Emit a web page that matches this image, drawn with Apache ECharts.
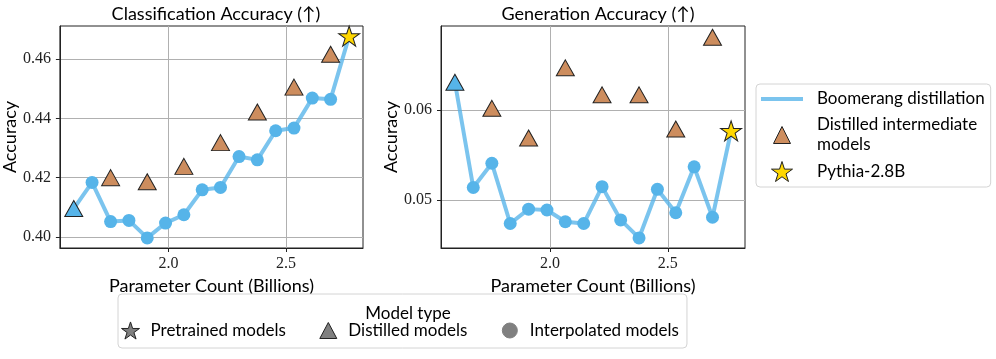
<!DOCTYPE html>
<html>
<head>
<meta charset="utf-8">
<script src="https://cdn.jsdelivr.net/npm/echarts@6/dist/echarts.min.js"></script>
<style>
  html, body { margin: 0; padding: 0; background: #fff; }
  #chart { width: 996px; height: 359px; }
</style>
</head>
<body>
<div id="chart"></div>
<script>
// parameter counts (billions) of the boomerang path, small -> Pythia-2.8B
const params = [1.596, 1.674, 1.753, 1.831, 1.909, 1.987, 2.065, 2.143,
  2.221, 2.300, 2.378, 2.456, 2.534, 2.612, 2.690, 2.769];
// indices of params that are distilled intermediate models
const distilledIdx = [2, 4, 6, 8, 10, 12, 14];

const clsBoomerang = [0.4096, 0.4184, 0.4052, 0.4056, 0.3997, 0.4047, 0.4075, 0.4159,
  0.4167, 0.4271, 0.4260, 0.4358, 0.4367, 0.4468, 0.4464, 0.4677];
const clsDistilled = [0.4200, 0.4186, 0.4238, 0.4318, 0.4421, 0.4505, 0.4616];

const genBoomerang = [0.0631, 0.0514, 0.0541, 0.0474, 0.0490, 0.0489, 0.0476, 0.0474,
  0.0515, 0.0478, 0.0458, 0.0512, 0.0486, 0.0537, 0.0481, 0.0577];
const genDistilled = [0.0602, 0.0569, 0.0647, 0.0617, 0.0617, 0.0579, 0.0681];

const xTicks = [2.0, 2.5];
const clsTicks = [0.40, 0.42, 0.44, 0.46];
const genTicks = [0.05, 0.06];

const BLUE = "#56B4E9";
const BROWN = "#CD8D5E";
const GOLD = "#FFD700";
const EDGE = "#222";
const SANS = "Lato";
const SERIF = "Liberation Serif";
const STAR = "path://M50 0 L61.23 34.55 L97.55 34.55 L68.16 55.9 L79.39 90.45 L50 69.1 L20.61 90.45 L31.84 55.9 L2.45 34.55 L38.77 34.55 Z";
// legend icons (the lone M points pad the bounding box so the shape keeps its size)
const ICON_LINE = "path://M0 8 L42 8 L42 12 L0 12 Z M0 0 M42 20";
const ICON_TRI20 = "path://M10 1.5 L18.5 18.5 L1.5 18.5 Z M0 0 M20 20";
const ICON_TRI18 = "path://M9 1 L17.5 17 L0.5 17 Z M0 0 M18 18";
const ICON_DOT18 = "path://M9 1.5 A7.5 7.5 0 1 1 8.99 1.5 Z M0 0 M18 18";

const grids = [
  { left: 59, top: 26, width: 304, height: 222 },
  { left: 441, top: 26, width: 304, height: 222 }
];

function xAxisFor(i) {
  return {
    type: "value", gridIndex: i, min: 1.537, max: 2.828,
    name: "Parameter Count (Billions)", nameLocation: "middle", nameGap: 26,
    nameTextStyle: { fontFamily: SANS, fontSize: 18, color: "#000" },
    axisLine: { show: true, lineStyle: { color: EDGE, width: 1 } },
    axisTick: { show: true, length: 4, customValues: xTicks, lineStyle: { color: EDGE } },
    axisLabel: { customValues: xTicks, margin: 8, fontFamily: SERIF, fontSize: 16, color: "#222",
      formatter: v => v.toFixed(1) },
    splitLine: { show: true, lineStyle: { color: "#b0b0b0", width: 1 } }
  };
}

function yAxisFor(i, min, max, ticks) {
  return {
    type: "value", gridIndex: i, min: min, max: max,
    name: "Accuracy", nameLocation: "middle", nameGap: 37,
    nameTextStyle: { fontFamily: SANS, fontSize: 18, color: "#000" },
    axisLine: { show: true, lineStyle: { color: EDGE, width: 1 } },
    axisTick: { show: true, length: 4, customValues: ticks, lineStyle: { color: EDGE } },
    axisLabel: { customValues: ticks, margin: 9, fontFamily: SERIF, fontSize: 16, color: "#222",
      formatter: v => v.toFixed(2) },
    splitLine: { show: true, lineStyle: { color: "#b0b0b0", width: 1 } }
  };
}

function panelSeries(i, boomerang, distilled) {
  const pts = params.map((x, k) => [x, boomerang[k]]);
  return [
    {
      name: "Boomerang distillation", type: "line", xAxisIndex: i, yAxisIndex: i,
      data: pts, symbol: "none", z: 2,
      lineStyle: { color: "rgba(86,180,233,0.78)", width: 4 },
      itemStyle: { color: "rgba(86,180,233,0.78)" }
    },
    {
      name: "interp", type: "scatter", xAxisIndex: i, yAxisIndex: i,
      data: pts.slice(1, pts.length - 1), symbol: "circle", symbolSize: 13, z: 3,
      itemStyle: { color: BLUE, opacity: 1 }
    },
    {
      name: "start", type: "scatter", xAxisIndex: i, yAxisIndex: i,
      data: [pts[0]], symbol: "triangle", symbolSize: [18, 16], z: 4,
      itemStyle: { color: BLUE, borderColor: EDGE, borderWidth: 1, opacity: 1 }
    },
    {
      name: "Distilled intermediate\nmodels", type: "scatter", xAxisIndex: i, yAxisIndex: i,
      data: distilledIdx.map((k, j) => [params[k], distilled[j]]),
      symbol: "triangle", symbolSize: [18, 16], z: 4, clip: false,
      itemStyle: { color: BROWN, borderColor: EDGE, borderWidth: 1, opacity: 1 }
    },
    {
      name: "Pythia-2.8B", type: "scatter", xAxisIndex: i, yAxisIndex: i,
      data: [pts[pts.length - 1]], symbol: STAR, symbolSize: [21, 20], z: 5, clip: false,
      itemStyle: { color: GOLD, borderColor: EDGE, borderWidth: 1, opacity: 1 }
    }
  ];
}

// legend-only entries for the model type box
const typeSeries = [
  { name: "Pretrained models", symbol: STAR },
  { name: "Distilled models", symbol: "triangle" },
  { name: "Interpolated models", symbol: "circle" }
].map(d => ({
  name: d.name, type: "scatter", xAxisIndex: 0, yAxisIndex: 0, data: [],
  symbol: d.symbol,
  itemStyle: { color: "#808080", borderColor: d.symbol === "circle" ? "#808080" : EDGE, borderWidth: 1, opacity: 1 }
}));

const titleStyle = { fontFamily: SANS, fontSize: 18, fontWeight: "normal", color: "#000" };

const chart = echarts.init(document.getElementById("chart"), null, { renderer: "canvas" });
chart.setOption({
  animation: false,
  backgroundColor: "#fff",
  title: [
    { text: "Classification Accuracy (↑)", left: 211, top: 0, textAlign: "center", textStyle: titleStyle },
    { text: "Generation Accuracy (↑)", left: 593, top: 0, textAlign: "center", textStyle: titleStyle },
    { text: "Model type", left: 403, top: 300, textAlign: "center",
      textStyle: { fontFamily: SANS, fontSize: 17, fontWeight: "normal", color: "#000" } }
  ],
  grid: grids.map(g => Object.assign({ show: true, borderColor: EDGE, borderWidth: 1 }, g)),
  xAxis: [xAxisFor(0), xAxisFor(1)],
  yAxis: [yAxisFor(0, 0.3963, 0.4711, clsTicks), yAxisFor(1, 0.04468, 0.06935, genTicks)],
  legend: [
    {
      data: [
        { name: "Boomerang distillation", icon: ICON_LINE, itemStyle: { borderWidth: 0 } },
        { name: "Distilled intermediate\nmodels", icon: ICON_TRI20 },
        { name: "Pythia-2.8B", icon: STAR }
      ],
      orient: "vertical", left: 756, top: 84, padding: [5, 6, 5, 5],
      itemWidth: 42, itemHeight: 20, itemGap: 6,
      backgroundColor: "#fff", borderColor: "#d4d4d4", borderWidth: 1, borderRadius: 4,
      selectedMode: false,
      itemStyle: { borderWidth: 1 },
      textStyle: { fontFamily: SANS, fontSize: 17, color: "#000", lineHeight: 20, padding: [0, 0, 0, 9] }
    },
    {
      data: [
        { name: "Pretrained models", icon: STAR },
        { name: "Distilled models", icon: ICON_TRI18 },
        { name: "Interpolated models", icon: ICON_DOT18 }
      ],
      orient: "horizontal", left: 118, top: 294, padding: [27, 8, 8, 3],
      itemWidth: 18, itemHeight: 18, itemGap: 33,
      backgroundColor: "#fff", borderColor: "#d4d4d4", borderWidth: 1, borderRadius: 4,
      selectedMode: false,
      itemStyle: { borderWidth: 1 },
      textStyle: { fontFamily: SANS, fontSize: 17, color: "#000", padding: [0, 0, 0, 6] }
    }
  ],
  series: [].concat(
    panelSeries(0, clsBoomerang, clsDistilled),
    panelSeries(1, genBoomerang, genDistilled),
    typeSeries
  )
});
</script>
</body>
</html>
